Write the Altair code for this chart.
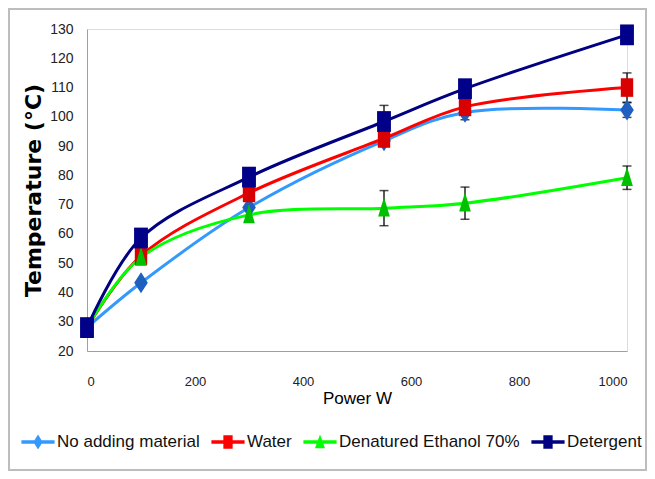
import altair as alt
import pandas as pd

power = [0, 100, 300, 550, 700, 1000]
series_names = ["No adding material", "Water", "Denatured Ethanol 70%", "Detergent"]
no_adding = [28, 43.3, 69, 91.8, 101.5, 102.3]
water = [28, 52.5, 74, 92.6, 103.4, 110]
ethanol = [28, 52, 66.5, 68.8, 70.5, 79.2]
detergent = [28, 58.6, 79.4, 98.4, 109.6, 128]
err_no_adding = [0, 0, 0, 0, 2.5, 2.5]
err_water = [0, 0, 0, 0, 0, 5]
err_ethanol = [0, 0, 0, 6, 5.5, 4]
err_detergent = [0, 0, 0, 5.5, 0, 0]
x_ticks = [0, 200, 400, 600, 800, 1000]
y_ticks = [20, 30, 40, 50, 60, 70, 80, 90, 100, 110, 120, 130]

line_colors = ["#3399FF", "#FF0000", "#00FF00", "#000080"]
marker_colors = ["#1F5FC0", "#D80000", "#00C000", "#000088"]

values = [no_adding, water, ethanol, detergent]
errors = [err_no_adding, err_water, err_ethanol, err_detergent]
rows = []
for name, vals, errs in zip(series_names, values, errors):
    for p, v, e in zip(power, vals, errs):
        rows.append({"series": name, "power": p, "temp": v, "lo": v - e, "hi": v + e, "err": e})
df = pd.DataFrame(rows)

FONT = "Liberation Sans, Arial, sans-serif"

x_axis = alt.Axis(values=x_ticks, title="Power W", format="d",
                  ticks=False, grid=False, labelPadding=24, labelFontSize=13,
                  labelFont=FONT, titleFont=FONT, titleFontSize=17,
                  titleFontWeight="normal", titlePadding=2, labelOverlap=False,
                  domainColor="#A0A0A0", labelColor="#222222")
y_axis = alt.Axis(values=y_ticks, title="Temperature (°C)",
                  ticks=False, grid=False, labelPadding=14, labelFontSize=14,
                  labelFont=FONT, titleFont="DejaVu Sans", titleFontSize=22,
                  titleFontWeight="bold", titlePadding=4, labelOverlap=False,
                  domainColor="#A0A0A0", labelColor="#222222")
x_scale = alt.Scale(domain=[0, 1000], nice=False)
y_scale = alt.Scale(domain=[20, 130], nice=False)


def X(field):
    return alt.X(field, type="quantitative", scale=x_scale, axis=x_axis)


def Y(field):
    return alt.Y(field, type="quantitative", scale=y_scale, axis=y_axis)


color_scale = alt.Scale(domain=series_names, range=line_colors)

legend_paths = [
    "M-1,-0.1H1V0.1H-1Z M0,-0.45L0.28,0L0,0.45L-0.28,0Z",
    "M-1,-0.1H1V0.1H-1Z M-0.28,-0.4H0.28V0.4H-0.28Z",
    "M-1,-0.1H1V0.1H-1Z M0,-0.45L0.3,0.38H-0.3Z",
    "M-1,-0.1H1V0.1H-1Z M-0.28,-0.4H0.28V0.4H-0.28Z",
]

legend_def = alt.Legend(title=None, orient="none", direction="horizontal",
                        legendX=-66, legendY=396, symbolSize=1100,
                        symbolStrokeWidth=0, labelFont=FONT, labelFontSize=17,
                        labelOffset=2, columnPadding=11, padding=0, labelLimit=400,
                        labelColor="#111111", columns=4)

lines = alt.Chart(df).mark_line(strokeWidth=3, interpolate="catmull-rom").encode(
    x=X("power"), y=Y("temp"),
    color=alt.Color("series:N", scale=color_scale, legend=legend_def),
    order=alt.Order("power:Q"),
)

errdf = df[df["err"] > 0]
err_rules = alt.Chart(errdf).mark_rule(color="black", strokeWidth=1.3).encode(
    x=X("power"), y=Y("lo"), y2="hi:Q")
err_caps_hi = alt.Chart(errdf).mark_tick(color="black", thickness=1.5, size=9, orient="horizontal").encode(
    x=X("power"), y=Y("hi"))
err_caps_lo = alt.Chart(errdf).mark_tick(color="black", thickness=1.5, size=9, orient="horizontal").encode(
    x=X("power"), y=Y("lo"))

marker_paths = [
    "M0,-1.15L0.75,0L0,1.15L-0.75,0Z",
    "M-0.8,-1.2H0.8V1.2H-0.8Z",
    "M0,-1.3L0.7,1H-0.7Z",
    "M-0.8,-1.2H0.8V1.2H-0.8Z",
]
marker_sizes = [330, 240, 280, 300]

point_layers = []
for name, path, col, sz in zip(series_names, marker_paths, marker_colors, marker_sizes):
    point_layers.append(
        alt.Chart(df[df["series"] == name]).mark_point(
            shape=path, filled=True, size=sz, color=col, opacity=1, strokeWidth=0
        ).encode(x=X("power"), y=Y("temp"))
    )

legend_layer = alt.Chart(df).mark_point(filled=True, opacity=1).encode(
    x=X("power"), y=Y("temp"),
    color=alt.Color("series:N", scale=color_scale, legend=legend_def),
    shape=alt.Shape("series:N", scale=alt.Scale(domain=series_names, range=legend_paths),
                    legend=legend_def),
).transform_filter("false")

frame = alt.Chart(pd.DataFrame({"a": [0]})).mark_rect(
    fillOpacity=0, stroke="#BDBDBD", strokeWidth=2
).encode(x=alt.value(-78), x2=alt.value(559), y=alt.value(-20), y2=alt.value(441))

chart = alt.layer(
    frame, lines, err_rules, err_caps_hi, err_caps_lo, *point_layers, legend_layer
).properties(
    width=540, height=322,
    autosize=alt.AutoSizeParams(type="none"),
    padding={"left": 79, "top": 21, "right": 20, "bottom": 120},
).configure_view(stroke=None).configure(background="white")

chart.save("out.html", embed_options={"renderer": "svg", "actions": False})
